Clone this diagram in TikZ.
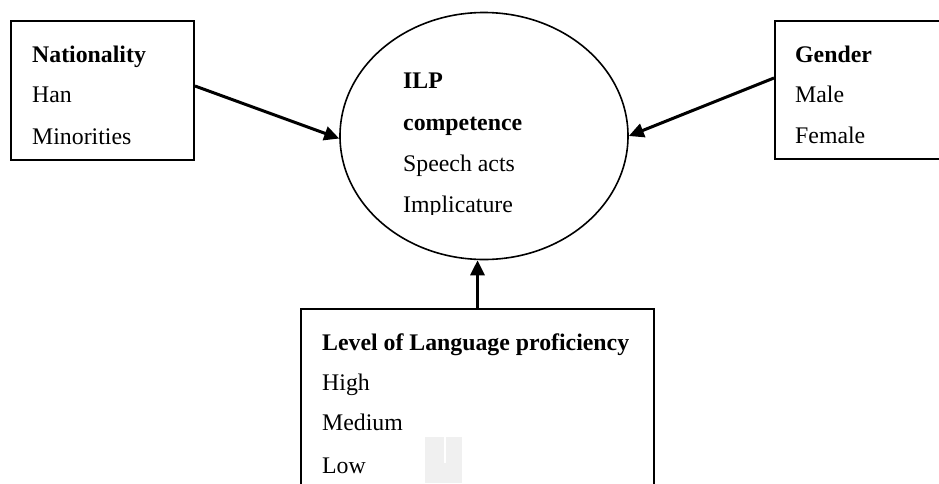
\documentclass[tikz,border=0pt]{standalone}
\usepackage{fontspec}
\setmainfont{Liberation Serif}
\usetikzlibrary{arrows.meta,shapes.geometric,calc}
\begin{document}
\begin{tikzpicture}[x=1pt,y=-1pt,
  boxframe/.style={draw,line width=2pt,rectangle,inner sep=0pt},
  lbl/.style={anchor=base west,inner sep=0pt,font=\fontsize{23.8}{28}\selectfont},
  hd/.style={lbl,font=\fontsize{23.8}{28}\selectfont\bfseries},
  arr/.style={line width=3pt,-{Triangle[length=15pt,width=14pt]}}]
\useasboundingbox (0,0) rectangle (939,483);
\fill[white] (0,0) rectangle (939,483);
% boxes
\node[boxframe,minimum width=183pt,minimum height=139pt] (lb) at (102.5,90.5) {};
\node[boxframe,minimum width=200pt,minimum height=138pt] (rb) at (875,90) {};
\node[boxframe,minimum width=353pt,minimum height=220pt] (bb) at (477.5,419) {};
\node[draw,ellipse,line width=1.6pt,minimum width=288pt,minimum height=247pt,inner sep=0pt] (ell) at (484,136) {};
% left box text
\node[hd] (t1) at (32,62) {Nationality};
\node[lbl] (t2) at (32,102) {Han};
\node[lbl] (t3) at (32,144) {Minorities};
% right box text
\node[hd] (r1) at (795,62) {Gender};
\node[lbl] (r2) at (795,102) {Male};
\node[lbl] (r3) at (795,143) {Female};
% ellipse text
\node[hd] (e1) at (403,88) {ILP};
\node[hd] (e2) at (403,130) {competence};
\node[lbl] (e3) at (403,171) {Speech acts};
\begin{scope}
\clip (380,180) rectangle (600,214);
\node[lbl] (e4) at (403,212) {Implicature};
\end{scope}
% bottom box text
\node[hd] (b1) at (322,350) {Level of Language proficiency};
\node[lbl] (b2) at (322,390) {High};
\node[lbl] (b3) at (322,430) {Medium};
\node[lbl] (b4) at (322,473) {Low};
% faint artifact
\fill[black!6] (425,437) rectangle (462,483);
\draw[white,line width=2pt] (445,437) -- (445,463);
% arrows
\draw[arr] ([yshift=4.5pt]lb.east) -- (ell.181);
\draw[arr] ([yshift=12pt]rb.west) -- (ell.east);
\draw[arr] (bb.north) -- (bb.north |- ell.south);
\end{tikzpicture}
\end{document}
